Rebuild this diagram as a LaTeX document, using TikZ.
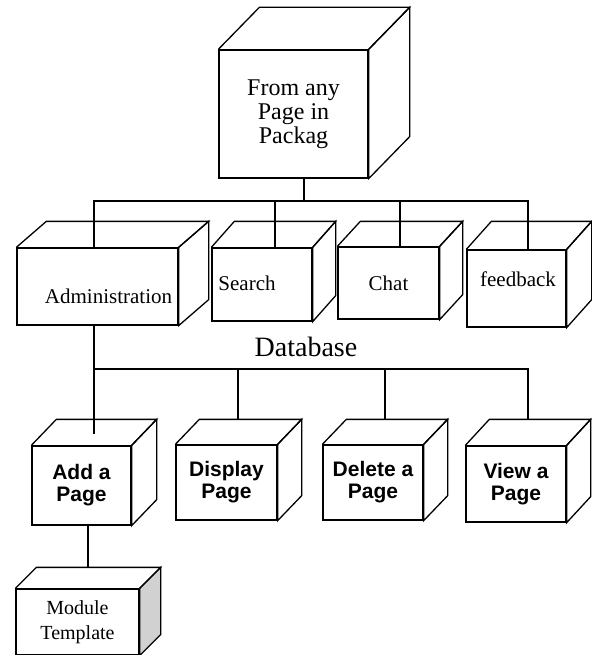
\documentclass[tikz,border=0pt]{standalone}
\usepackage{fontspec}
\setmainfont{Liberation Serif}
\setsansfont{Liberation Sans}
\usetikzlibrary{positioning}
\tikzstyle{cubetext} = [font=\fontsize{21}{24}\selectfont]
\tikzstyle{cube} = [rectangle, draw=black, line width=1.3pt, inner sep=0pt, align=center, cubetext]
\tikzstyle{boldcube} = [cube, font=\sffamily\bfseries\fontsize{21}{22}\selectfont]
\tikzstyle{boxline} = [draw=black, line width=1.3pt]
\tikzstyle{line} = [line width=1.3pt]
% top and right faces of a cube, drawn behind the front node
\newcommand{\cubefaces}[4][white]{%
  \filldraw[boxline, fill=#1] (#2.north east) -- ++(#3,#4) -- ([shift={(#3,#4)}]#2.south east) -- (#2.south east) -- cycle;
  \draw[boxline] (#2.north west) -- ++(#3,#4) -- ([shift={(#3,#4)}]#2.north east) -- (#2.north east);
}

\begin{document}
\begin{tikzpicture}[x=1pt, y=1pt]
	\useasboundingbox (0,0) rectangle (591,-655);
	\node (start) [cube, minimum width=149, minimum height=128, font=\fontsize{24}{24}\selectfont] at (293.5,-114) {From any\\Page in\\Packag};
		\node (admin) [cube, minimum width=161, minimum height=77,
			label={[shift={(11,-9.5)}, cubetext]center:Administration}] at (97.5,-286.5) {};
		\node (search) [cube, minimum width=100, minimum height=73,
			label={[shift={(-15,1.5)}, cubetext]center:Search}] at (262,-284.5) {};
		\node (chat) [cube, minimum width=101, minimum height=72] at (388.5,-283) {Chat};
		\node (feedback) [cube, minimum width=99, minimum height=77,
			label={[shift={(1.5,9.5)}, cubetext]center:feedback}] at (516.5,-288.5) {};
	\node (database) [font=\fontsize{28}{28}\selectfont] at (306,-346.5) {Database};
		\node (addpage) [boldcube, minimum width=99, minimum height=79] at (81.5,-485.5) {Add a\\Page};
		\node (display) [boldcube, minimum width=101, minimum height=75] at (226.5,-482.5) {Display\\Page};
		\node (delete) [boldcube, minimum width=100, minimum height=75] at (373,-482.5) {Delete a\\Page};
		\node (view) [boldcube, minimum width=100, minimum height=76] at (516,-484) {View a\\Page};
		\node (module) [cube, minimum width=123, minimum height=66, font=\fontsize{20}{25}\selectfont] at (77.5,-622) {Module\\Template};
	\cubefaces{start}{41}{42}
	\cubefaces{admin}{30}{26}
	\cubefaces{search}{23}{26}
	\cubefaces{chat}{23}{25}
	\cubefaces{feedback}{25}{28}
	\cubefaces{addpage}{25}{26}
	\cubefaces{display}{24}{25}
	\cubefaces{delete}{24}{25}
	\cubefaces{view}{24}{26}
	\cubefaces[black!18]{module}{21}{21}
	% upper bus
	\coordinate (bus1) at (304,-201);
	\coordinate (adminin) at ([xshift=-3.5]admin.north);
	\coordinate (searchin) at ([xshift=13]search.north);
	\coordinate (chatin) at ([xshift=11.5]chat.north);
	\coordinate (feedbackin) at ([xshift=11.5]feedback.north);
	\draw [line] ([xshift=10.5]start.south) -- (bus1);
	\draw [line] (adminin) |- (bus1) -| (feedbackin);
	\draw [line] (searchin) -- (searchin |- bus1);
	\draw [line] (chatin) -- (chatin |- bus1);
	% lower bus
	\coordinate (bus2) at (94,-369);
	\coordinate (addin) at ([xshift=12.5, yshift=11]addpage.north);
	\coordinate (displayin) at ([xshift=11.5, yshift=25]display.north);
	\coordinate (deletein) at ([xshift=12, yshift=25]delete.north);
	\coordinate (viewin) at ([xshift=12, yshift=26]view.north);
	\draw [line] ([xshift=-3.5]admin.south) -- (addin);
	\draw [line] (bus2) -| (viewin);
	\draw [line] (displayin) -- (displayin |- bus2);
	\draw [line] (deletein) -- (deletein |- bus2);
	\draw [line] ([xshift=6.5]addpage.south) -- ([xshift=10.5, yshift=21]module.north);
\end{tikzpicture}
\end{document}
